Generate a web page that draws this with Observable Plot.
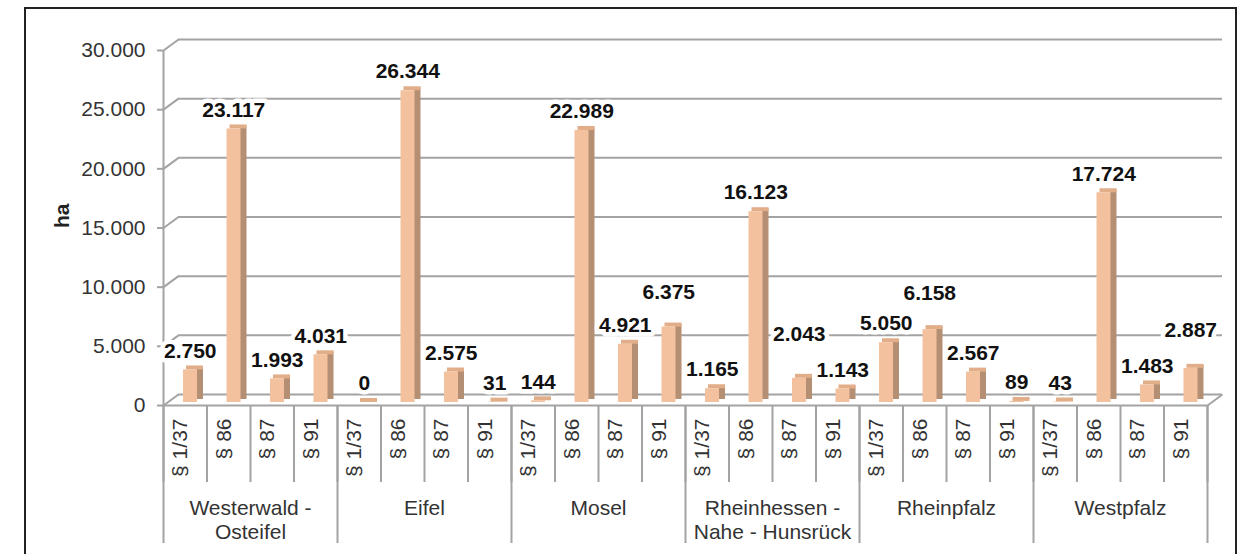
<!DOCTYPE html>
<html>
<head>
<meta charset="utf-8">
<script src="https://cdn.jsdelivr.net/npm/d3@7"></script>
<script src="https://cdn.jsdelivr.net/npm/@observablehq/plot@0.6"></script>
<style>
  html, body { margin: 0; padding: 0; background: #fff; }
  #wrap { position: relative; width: 1243px; height: 554px; overflow: hidden; }
  #frame { position: absolute; left: 24px; top: 7px; width: 1209px; height: 600px;
           border: 2px solid #222; pointer-events: none; }
</style>
</head>
<body>
<div id="wrap"><div id="chart"></div><div id="frame"></div></div>
<script>
// ---- data ----
const regions = ["Westerwald -\nOsteifel", "Eifel", "Mosel", "Rheinhessen -\nNahe - Hunsrück", "Rheinpfalz", "Westpfalz"];
const paragraphs = ["§ 1/37", "§ 86", "§ 87", "§ 91"];
const westerwaldOsteifel = [2750, 23117, 1993, 4031];
const eifel = [0, 26344, 2575, 31];
const mosel = [144, 22989, 4921, 6375];
const rheinhessenNaheHunsrueck = [1165, 16123, 2043, 1143];
const rheinpfalz = [5050, 6158, 2567, 89];
const westpfalz = [43, 17724, 1483, 2887];
const yTicks = [0, 5000, 10000, 15000, 20000, 25000, 30000];
const yLabel = "ha";

// extra label lift (px) where labels were moved to avoid overlaps
const labelNudge = [0,0,0,0, 0,0,0,0, 0,0,0,16, 0,0,25,0, 0,17,0,0, 0,0,0,19];

const series = [westerwaldOsteifel, eifel, mosel, rheinhessenNaheHunsrueck, rheinpfalz, westpfalz];
const rows = [];
series.forEach((vals, g) => vals.forEach((v, p) => {
  const i = g * paragraphs.length + p;
  rows.push({i, region: regions[g], para: paragraphs[p], value: v, nudge: labelNudge[i]});
}));
const nCat = rows.length;

const de = d3.formatLocale({decimal: ",", thousands: ".", grouping: [3], currency: ["", " €"]});
const fmt = de.format(",.0f");

// ---- layout ----
const W = 1243, H = 554;
const mL = 163, mR = 36, mT = 50, mB = 149;
const bandPx = (W - mL - mR) / nCat;
const depth = [15, -11];                          // 3D wall depth in px
const depthX = depth[0] / bandPx;                 // in x units
const depthY = -depth[1] * 30000 / (H - mT - mB); // in y units

const cFront = "#F3C19E", cSide = "#B58F73", cTop = "#E2AE89";
const cGrid = "#A3A3A3";
const font = "'Liberation Sans', Arial, sans-serif";
const fs = 21;

const labelMarks = Array.from(d3.group(rows, d => d.nudge), ([nudge, rs]) =>
  Plot.text(rs, {x: d => d.i + 0.5, y: "value", text: d => fmt(d.value),
    dx: 5, dy: -22 - nudge, fontSize: fs, fontWeight: "bold", fill: "#111",
    stroke: "white", strokeWidth: 9, strokeLinejoin: "round", paintOrder: "stroke"}));

const chart = Plot.plot({
  width: W, height: H,
  marginLeft: mL, marginRight: mR, marginTop: mT, marginBottom: mB,
  style: {fontFamily: font, background: "transparent", overflow: "visible"},
  x: {type: "linear", domain: [0, nCat]},
  y: {domain: [0, 30000]},
  marks: [
    // back wall gridlines
    Plot.ruleY(yTicks, {dx: depth[0], dy: depth[1], stroke: cGrid, strokeWidth: 2}),
    // left wall diagonals
    Plot.link(yTicks, {x1: 0, x2: depthX, y1: d => d, y2: d => d + depthY, stroke: cGrid, strokeWidth: 2}),
    // floor: front edge and right diagonal
    Plot.ruleY([0], {stroke: cGrid, strokeWidth: 2}),
    Plot.link([0], {x1: nCat, x2: nCat + depthX, y1: 0, y2: depthY, stroke: cGrid, strokeWidth: 2}),
    // y axis line
    Plot.ruleX([0], {stroke: cGrid, strokeWidth: 2}),
    Plot.axisY(yTicks, {tickSize: 6, tickPadding: 12, tickFormat: fmt, fontSize: fs,
      stroke: cGrid, strokeWidth: 2, fill: "#333", label: null}),
    Plot.text([yLabel], {frameAnchor: "left", dx: -101, rotate: -90, fontSize: fs,
      fontWeight: "bold", fill: "#222"}),
    // x separators
    Plot.axisX(d3.range(nCat + 1), {tickSize: 77, stroke: cGrid, strokeWidth: 2, fill: "none", label: null}),
    Plot.axisX(d3.range(0, nCat + 1, paragraphs.length), {tickSize: 138, stroke: cGrid, strokeWidth: 2, fill: "none", label: null}),
    // sub labels
    Plot.text(rows, {x: d => d.i + 0.5, frameAnchor: "bottom", dy: 13, dx: 2, rotate: -90,
      textAnchor: "end", text: "para", fontSize: fs, fill: "#333"}),
    // group labels
    Plot.text(regions, {x: (d, k) => k * paragraphs.length + paragraphs.length / 2, frameAnchor: "bottom",
      dy: 92, lineAnchor: "top", lineHeight: 1.15, text: d => d, fontSize: fs, fill: "#333"}),
    // bars: side, top, front
    Plot.rect(rows, {x1: "i", x2: d => d.i + 1, y1: 0, y2: "value", insetLeft: 33.5, insetRight: 3.5,
      dy: -6, fill: cSide}),
    Plot.rect(rows, {x1: "i", x2: d => d.i + 1, y1: "value", y2: "value", insetTop: -4,
      insetLeft: 23, insetRight: 3.5, dy: -3, fill: cTop}),
    Plot.rect(rows, {x1: "i", x2: d => d.i + 1, y1: 0, y2: "value", insetLeft: 20, insetRight: 9.5,
      dy: -3, fill: cFront}),
    // value labels
    ...labelMarks
  ]
});
document.getElementById("chart").append(chart);
</script>
</body>
</html>
